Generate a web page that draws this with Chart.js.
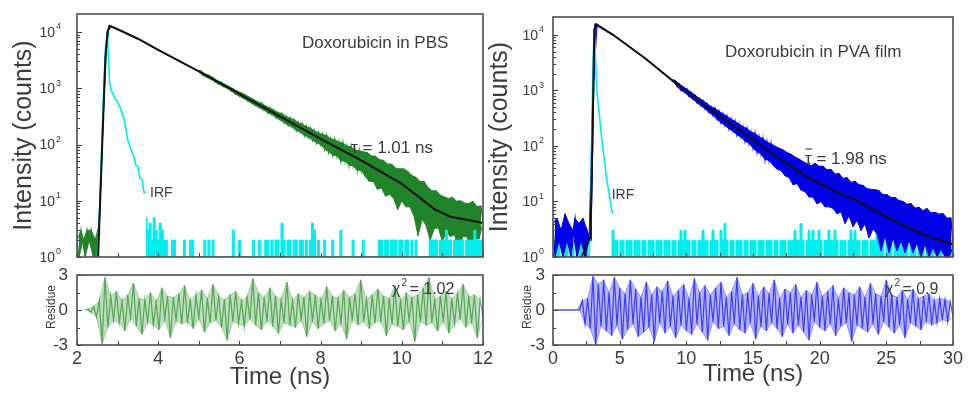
<!DOCTYPE html>
<html lang="en">
<head>
<meta charset="UTF-8" />
<title>Doxorubicin fluorescence decay</title>
<script src="https://cdn.jsdelivr.net/npm/chart.js@4.4.1/dist/chart.umd.min.js"></script>
<style>
  html, body { margin: 0; padding: 0; background: #fff; }
  #wrap { position: relative; width: 968px; height: 395px; overflow: hidden; }
  #wrap canvas { position: absolute; left: 0; top: 0; }
</style>
</head>
<body>
<div id="wrap">
  <canvas id="pbsMain" width="968" height="395"></canvas>
  <canvas id="pbsRes" width="968" height="395"></canvas>
  <canvas id="pvaMain" width="968" height="395"></canvas>
  <canvas id="pvaRes" width="968" height="395"></canvas>
</div>
<script>
// ---- tick labels ----
const pbsTimeTicks = [2, 4, 6, 8, 10, 12]
const pvaTimeTicks = [0, 5, 10, 15, 20, 25, 30]
const countTicks = [1, 10, 100, 1000, 10000]
const residueTicks = [-3, 0, 3]

// ---- Doxorubicin in PBS (time grid 2.00 ns, 0.05 ns bins) ----
const pbsTimeStart = 2.0
const pbsTimeStep = 0.05
const pbsCounts = [
  2, 1, 3, 2, 1, 3, 2, 3, 1, 2, 1,
  4, 38, 370, 3500, 10000, 12900,
  12600, 12000, 11750, 11200, 10800, 10400, 9980, 9600, 9230, 8870, 8530, 8200, 7890, 7590, 7240, 6920,
  6610, 6310, 6030, 5750, 5500, 5250, 5010, 4790, 4580, 4390, 4200, 4020, 3850, 3680, 3520, 3370,
  3230, 3090, 2960, 2830, 2710, 2590, 2480, 2380, 2280, 2180, 2080, 2000,
  2040, 1700, 1820, 1550, 1700, 1450, 1550, 1290, 1380, 1175, 1290, 1070, 1175, 1000, 1070, 890,
  980, 790, 890, 720, 830, 660, 760, 600, 690, 540, 630, 490, 575, 450, 540, 410, 480, 365, 450, 340,
  410, 300, 370, 275,
  355, 245, 316, 220, 295, 205, 275, 178, 245, 166, 230, 145, 210, 135, 195, 120, 175, 107, 162, 100,
  150, 83, 145, 74, 126, 65, 123, 63, 110, 51, 107, 51, 93, 43, 91, 42, 79, 35, 78, 35,
  74, 27, 72, 22, 63, 22, 62, 16, 54, 17, 52, 12, 45, 13, 45, 11, 38, 7, 37, 10,
  37, 7.8, 33, 7.8, 28, 5.4, 26, 2.4, 22, 4.7, 22, 3.6, 17, 2, 15, 3.2,
  15, 3.3, 12.6, 1.9, 11.7, 2.8, 11, 2.3,
  11.5, 2.5, 9.8, 1.2, 10, 2.3, 9.1, 2.3, 8.9, 1.4, 9.8, 2.1, 7.9, 2.1, 8.1, 4,
]
const pbsFitTime = [2.52, 2.6, 2.65, 2.7, 2.75, 2.8, 3.0, 3.5, 4, 5, 6, 7, 8, 9, 10, 10.8, 11.2, 11.6, 12]
const pbsFitCounts = [1, 38, 370, 3500, 10000, 12900, 11200, 7590, 4790, 2000, 794, 316, 126, 52, 20, 7.1, 5.2, 4.6, 4]
const pbsIrfStart = 2.45
const pbsIrfCounts = [1, 1, 5, 60, 700, 5000, 9000, 1300, 900, 750, 650, 560, 480, 380, 300, 200, 120, 95, 75, 62, 42, 40, 25, 24, 14, 14]
const pbsIrfTailStart = 3.7
const pbsIrfTail = [
  5, 3, 4, 2, 5, 3, 2, 4, 3, 2, 2, 1, 1, 2, 2, 1, 1, 1, 1, 2, 1, 1, 2, 2, 1, 1, 1, 1, 1, 2,
  1, 2, 1, 2, 1, 1, 1, 1, 1, 1, 1, 1, 1, 3, 1, 1, 2, 1, 1, 1, 1, 1, 1, 2, 1, 1, 2, 1, 1, 2,
  2, 1, 2, 1, 2, 2, 1, 4, 2, 1, 2, 2, 1, 2, 2, 1, 2, 2, 1, 2, 1, 2, 4, 3, 1, 2, 1, 1, 2, 1,
  1, 1, 2, 1, 1, 1, 3, 1, 1, 1, 1, 1, 2, 1, 1, 1, 1, 2, 1, 1, 1, 1, 1, 1, 1, 2, 2, 1, 2, 2,
  1, 2, 2, 2, 1, 2, 2, 1, 2, 2, 1, 2, 1, 2, 1, 1, 1, 1, 1, 1, 2, 2, 2, 2, 1, 2, 2, 2, 3, 2,
  2, 1, 2, 2, 2, 2, 2, 1, 2, 2, 2, 2, 3, 2, 2, 2, 2,
]
const pbsResStart = 2.2
const pbsResStep = 0.07
const pbsResidue = [
  0, 0.1, -0.2, 0.3, -0.6, 0.8, -2.9, 2.8, -1.5, 1.2, -0.9, 1.6, -1.1, 0.8, -1.8, 1.3, -0.7, 2.3, -1.4, 1.0,
  -2.1, 0.9, -1.0, 1.5, -1.3, 0.7, -1.7, 1.9, -0.8, 1.2, -2.4, 1.1, -0.9, 1.4, -1.2, 2.1, -1.0, 0.8, -1.6, 1.3,
  -0.7, 1.7, -1.9, 1.0, -1.1, 2.2, -0.9, 1.2, -1.5, 0.9, -2.6, 1.3, -1.0, 1.6, -1.2, 0.8, -1.4, 1.1, -0.8, 2.7,
  -1.3, 1.5, -1.7, 1.0, -0.9, 1.9, -1.4, 1.2, -2.0, 0.9, -1.1, 2.4, -1.3, 0.8, -1.5, 1.4, -0.8, 1.1, -2.3, 1.6,
  -1.0, 1.3, -1.6, 0.9, -1.2, 2.0, -0.9, 1.2, -1.8, 1.0, -1.1, 1.7, -2.5, 1.1, -0.8, 1.4, -1.3, 2.6, -1.0, 0.9,
  -1.6, 1.3, -1.1, 1.8, -0.9, 1.2, -2.2, 1.0, -1.2, 2.1, -1.4, 0.8, -1.7, 1.5, -0.9, 1.1, -2.7, 1.3, -1.0, 1.9,
  -1.3, 2.8, -1.1, 0.9, -1.8, 1.2, -0.9, 1.6, -2.0, 1.0, -1.2, 1.4, -0.8, 2.2, -1.5, 1.1, -1.0, 1.3, -2.4, 0.9, -0.6,
]

// ---- Doxorubicin in PVA film (time grid 0 ns, 0.15 ns bins) ----
const pvaTimeStart = 0
const pvaTimeStep = 0.15
const pvaCounts = [
  4, 1, 5, 2, 3, 1, 6, 2, 4, 1, 3, 5, 1, 4, 2, 5, 1, 3, 2, 2,
  1000, 15500, 14600, 13900, 13250, 12650, 12080, 11500, 11000, 10470, 10000,
  9420, 8850, 8340, 7840, 7380, 6950, 6530, 6150, 5780, 5440,
  5130, 4820, 4540, 4270, 4020, 3780, 3550, 3320, 3100, 2900,
  2710, 2530, 2370, 2210, 2070, 1930, 1800, 1690, 1570, 1470,
  1510, 1175, 1320, 1000, 1160, 908, 1050, 783, 927, 692, 818, 597, 723, 527, 653, 466, 577, 402, 509, 355,
  473, 302, 421, 262, 375, 234, 342, 203, 304, 185, 277, 158, 247, 144, 220, 122, 205, 111, 177, 92,
  168, 78, 146, 72, 135, 57, 117, 55, 109, 45, 99, 38, 91, 36, 85, 29, 76, 27, 71, 20,
  63, 21, 58, 16, 52, 15, 48, 12, 44, 12, 49, 9, 43, 10, 43, 8, 37, 8, 38, 7.5,
  31, 6, 32, 6.5, 26, 4, 27, 5.5, 22, 3.5, 23, 4.6, 20, 3, 19.5, 4, 17, 2.2, 16.5, 3.2,
  16.3, 2.6, 15.7, 1.3, 13.2, 2.4, 13.3, 1.2, 11.7, 2.2, 11.8, 1.3, 10.4, 2, 10, 1.2, 8.9, 2, 9.2, 1.2,
  7.6, 1.8, 7.9, 1, 6.8, 1.7, 7.5, 1, 6.2, 1.5, 6.4, 1, 5.9, 1.4, 6.1, 1, 5, 1, 5.1, 1.5,
]
const pvaFitTime = [2.15, 2.5, 2.8, 2.95, 3.1, 3.25, 4.5, 7, 9.5, 12, 14.5, 16.5, 19, 21.5, 23, 24, 26.5, 28, 30]
const pvaFitCounts = [1, 1.6, 2.3, 100, 12600, 15500, 10000, 3630, 1175, 417, 158, 71, 28, 14, 9.8, 7.1, 3.5, 2.4, 1.7]
const pvaIrfStart = 2.7
const pvaIrfStep = 0.1
const pvaIrfCounts = [1, 3, 150, 3000, 12500, 3200, 900, 560, 320, 180, 110, 70, 45, 28, 20, 14, 10, 7, 6]
const pvaIrfBackground = [
  2, 1, 2, 2, 1, 2, 2, 2, 1, 2, 2, 1, 2, 2, 2, 1, 2, 2, 1, 1,
  1, 1, 1, 1, 1, 1, 1, 1, 1, 1, 3, 2, 2, 1, 2, 2, 1, 2, 2, 2,
  1, 2, 2, 2, 1, 2, 2, 1, 2, 2, 2, 1, 2, 2, 2, 1, 2, 2, 2, 1,
  2, 2, 1, 2, 3, 2, 3, 2, 2, 1, 2, 2, 1, 2, 2, 3, 2, 2, 1, 2,
  3, 2, 2, 1, 3, 2, 4, 2, 1, 2, 2, 1, 2, 2, 2, 1, 2, 2, 1, 2,
  2, 2, 1, 2, 2, 2, 1, 2, 2, 2, 1, 2, 2, 1, 2, 2, 2, 1, 2, 2,
  2, 3, 2, 2, 4, 2, 1, 2, 3, 2, 3, 2, 2, 3, 2, 1, 2, 2, 3, 2,
  2, 3, 2, 1, 2, 2, 2, 1, 2, 3, 2, 3, 2, 2, 1, 2, 2, 2, 1, 2,
  2, 2, 3, 2, 4, 2, 1, 2, 2, 2, 1, 2, 2, 2, 3, 2, 3, 2, 1, 2,
  2, 2, 1, 2, 2, 2, 1, 2, 2, 2, 2, 1, 2, 2, 2, 1, 2, 2, 2, 2, 2,
]
const pvaResStep = 0.2
const pvaResidue = [
  0, 0, 0, 0, 0, 0, 0, 0, 0, 0, 0,
  0.8, -1.2, 1.0, -1.6, 2.9, -3.0, 2.2, -1.4, 2.6, -1.8, 1.5, -2.2, 2.8, -1.3, 1.9, -2.5, 1.4, -1.7, 2.6,
  -1.2, 1.8, -2.3, 1.1, -1.9, 2.4, -1.5, 1.3, -2.7, 2.0, -1.1, 1.6, -2.0, 2.5, -1.4, 1.2, -2.4, 1.7, -1.3, 2.2,
  -1.8, 1.0, -2.1, 2.7, -1.2, 1.5, -1.9, 2.1, -2.6, 1.3, -1.0, 1.9, -1.6, 2.4, -1.4, 1.1, -2.2, 1.6, -1.2, 2.8,
  -1.7, 1.3, -2.0, 1.5, -1.1, 2.3, -2.5, 1.2, -1.4, 2.0, -1.8, 1.4, -1.1, 2.6, -1.6, 1.0, -2.3, 1.8, -1.2, 1.5,
  -2.0, 2.2, -1.3, 1.1, -1.9, 1.7, -2.6, 1.3, -1.0, 2.4, -1.5, 1.2, -1.8, 1.6, -1.2, 2.1, -2.2, 1.0, -1.4, 1.9,
  -1.1, 1.5, -2.7, 1.3, -1.3, 2.0, -1.6, 1.1, -1.9, 2.3, -1.2, 1.4, -2.1, 1.2, -1.0, 2.6, -1.5, 1.3, -2.0, 1.1,
  -1.3, 1.7, -2.4, 0.9, -1.1, 1.8, -1.4, 1.0, -1.7, 1.2, -0.9, 1.4, -1.3, 0.8, -1.1, 1.0, -0.8, 0.9, -1.0, 0.7, -0.6,
]

// ---- look ----
const INK = '#3c3c3c'
const FONT = '"Liberation Sans", Arial, Helvetica, sans-serif'
const GREEN = '#22842a'
const BLUE = '#0000e6'
const CYAN = '#00eeee'
const FIT = '#111111'

function series(t0, dt, values) {
  return values.map((v, i) => ({ x: +(t0 + i * dt).toFixed(3), y: v }))
}
function pairs(ts, vs) {
  return ts.map((t, i) => ({ x: t, y: vs[i] }))
}
// noisy record: the jagged trace itself, plus the area between its alternate samples
function noisy(points, line, fill, width) {
  return [
    { data: points, borderColor: line, borderWidth: width },
    { data: points.filter((_, i) => i % 2 === 0), borderColor: fill, borderWidth: 1 },
    { data: points.filter((_, i) => i % 2 === 1), borderColor: fill, borderWidth: 1, backgroundColor: fill, fill: '-1' },
  ]
}
const minorCounts = countTicks.slice(0, -1).flatMap((d) => [2, 3, 4, 5, 6, 7, 8, 9].map((m) => d * m))

function text(ctx, str, x, y, size, align = 'center', base = 'middle') {
  ctx.font = `${size}px ${FONT}`
  ctx.textAlign = align
  ctx.textBaseline = base
  ctx.fillText(str, x, y)
}
function vtext(ctx, str, x, y, size) {
  ctx.save()
  ctx.translate(x, y)
  ctx.rotate(-Math.PI / 2)
  text(ctx, str, 0, 0, size)
  ctx.restore()
}

function decor(opt) {
  return {
    id: 'decor',
    afterDraw(chart) {
      const { ctx, chartArea: a } = chart
      const x = chart.scales.x
      const y = chart.scales.y
      ctx.save()
      ctx.strokeStyle = INK
      ctx.fillStyle = INK
      ctx.lineWidth = 1
      ctx.beginPath()
      for (let v = x.min; v <= x.max + 1e-6; v += opt.xStep) {
        const px = Math.round(x.getPixelForValue(v)) + 0.5
        ctx.moveTo(px, a.bottom)
        ctx.lineTo(px, a.bottom - 4)
      }
      for (const v of opt.yMajor) {
        const py = Math.round(y.getPixelForValue(v)) + 0.5
        ctx.moveTo(a.left, py)
        ctx.lineTo(a.left + 5, py)
      }
      for (const v of opt.yMinor) {
        const py = Math.round(y.getPixelForValue(v)) + 0.5
        ctx.moveTo(a.left, py)
        ctx.lineTo(a.left + 3, py)
      }
      ctx.stroke()
      ctx.lineWidth = 1.6
      ctx.strokeStyle = '#4d4d4d'
      ctx.strokeRect(a.left, a.top, a.right - a.left, a.bottom - a.top)
      opt.draw(ctx, a, x, y)
      ctx.restore()
    },
  }
}

function powerLabels(ctx, a, y, gap) {
  for (const v of countTicks) {
    const py = y.getPixelForValue(v)
    text(ctx, '10', a.left - gap, py + 1, 14, 'right')
    text(ctx, String(Math.round(Math.log10(v))), a.left - gap + 1, py - 5, 9, 'left')
  }
  vtext(ctx, 'Intensity (counts)', a.left - 53, (a.top + a.bottom) / 2, 25)
}
function timeAxis(ctx, a, x, ticks, titleDy) {
  for (const v of ticks) text(ctx, String(v), x.getPixelForValue(v), a.bottom + 14, 18)
  text(ctx, 'Time (ns)', (a.left + a.right) / 2, a.bottom + titleDy, 24)
}
function residueAxis(ctx, a, y, gap) {
  for (const v of residueTicks) text(ctx, String(v), a.left - gap, y.getPixelForValue(v), 17, 'right')
  vtext(ctx, 'Residue', a.left - 25, (a.top + a.bottom) / 2 - 3, 12)
}
function chiLabel(ctx, px, py, value) {
  text(ctx, 'χ', px, py, 16, 'left')
  const w = ctx.measureText('χ').width
  text(ctx, '2', px + w + 1, py - 7, 10, 'left')
  text(ctx, '= ' + value, px + w + 9, py, 16, 'left')
}

function options(pad, xMin, xMax, yScale) {
  return {
    responsive: false,
    animation: false,
    devicePixelRatio: 1,
    events: [],
    layout: { padding: pad },
    plugins: { legend: { display: false }, tooltip: { enabled: false } },
    elements: { point: { radius: 0 }, line: { tension: 0 } },
    scales: {
      x: { type: 'linear', min: xMin, max: xMax, display: false },
      y: Object.assign({ display: false }, yScale),
    },
  }
}
const logY = { type: 'logarithmic', min: 1, max: 20900 }
const resY = { type: 'linear', min: -3, max: 3 }

// ---- PBS decay ----
new Chart(document.getElementById('pbsMain'), {
  type: 'line',
  data: {
    datasets: [
      { data: pairs(pbsFitTime, pbsFitCounts), borderColor: FIT, borderWidth: 2 },
      { data: series(pbsIrfStart, pbsTimeStep, pbsIrfCounts), borderColor: CYAN, borderWidth: 1.6 },
      {
        data: series(pbsIrfTailStart, pbsTimeStep, pbsIrfTail),
        borderColor: CYAN, backgroundColor: CYAN, borderWidth: 1, stepped: 'middle', fill: 'start',
      },
      ...noisy(series(pbsTimeStart, pbsTimeStep, pbsCounts), GREEN, GREEN, 1.2),
    ],
  },
  options: options({ left: 77, top: 14, right: 485, bottom: 138 }, 2, 12, logY),
  plugins: [
    decor({
      xStep: 1, yMajor: countTicks, yMinor: minorCounts,
      draw(ctx, a, x, y) {
        powerLabels(ctx, a, y, 22)
        text(ctx, 'Doxorubicin in PBS', x.getPixelForValue(7.54), y.getPixelForValue(6400), 17, 'left')
        text(ctx, 'IRF', x.getPixelForValue(3.8), y.getPixelForValue(13.7), 14, 'left')
        text(ctx, 'τ = 1.01 ns', x.getPixelForValue(8.75), y.getPixelForValue(85), 17, 'left')
      },
    }),
  ],
})

new Chart(document.getElementById('pbsRes'), {
  type: 'line',
  data: {
    datasets: noisy(series(pbsResStart, pbsResStep, pbsResidue), 'rgba(20,125,20,0.6)', 'rgba(40,150,40,0.3)', 1.2),
  },
  options: options({ left: 77, top: 275, right: 485, bottom: 50 }, 2, 12, resY),
  plugins: [
    decor({
      xStep: 1, yMajor: residueTicks, yMinor: [-1.5, 1.5],
      draw(ctx, a, x, y) {
        residueAxis(ctx, a, y, 9)
        timeAxis(ctx, a, x, pbsTimeTicks, 32)
        chiLabel(ctx, x.getPixelForValue(9.76), y.getPixelForValue(1.71), '1.02')
      },
    }),
  ],
})

// ---- PVA film decay ----
new Chart(document.getElementById('pvaMain'), {
  type: 'line',
  data: {
    datasets: [
      { data: pairs(pvaFitTime, pvaFitCounts), borderColor: FIT, borderWidth: 2 },
      { data: series(pvaIrfStart, pvaIrfStep, pvaIrfCounts), borderColor: CYAN, borderWidth: 1.6 },
      ...noisy(series(pvaTimeStart, pvaTimeStep, pvaCounts), BLUE, BLUE, 1.2),
      {
        data: series(pvaTimeStart, pvaTimeStep, pvaIrfBackground),
        borderColor: CYAN, backgroundColor: CYAN, borderWidth: 1, stepped: 'middle', fill: 'start',
      },
    ],
  },
  options: options({ left: 553, top: 17, right: 15, bottom: 138 }, 0, 30, logY),
  plugins: [
    decor({
      xStep: 2.5, yMajor: countTicks, yMinor: minorCounts,
      draw(ctx, a, x, y) {
        powerLabels(ctx, a, y, 15)
        text(ctx, 'Doxorubicin in PVA film', x.getPixelForValue(12.9), y.getPixelForValue(4900), 17, 'left')
        text(ctx, 'IRF', x.getPixelForValue(4.4), y.getPixelForValue(13), 14, 'left')
        const tx = x.getPixelForValue(18.9)
        const ty = y.getPixelForValue(58)
        text(ctx, 'τ = 1.98 ns', tx, ty, 17, 'left')
        const tw = ctx.measureText('τ').width
        ctx.lineWidth = 1.2
        ctx.beginPath()
        ctx.moveTo(tx + 0.5, ty - 10)
        ctx.lineTo(tx + tw + 0.5, ty - 10)
        ctx.stroke()
      },
    }),
  ],
})

new Chart(document.getElementById('pvaRes'), {
  type: 'line',
  data: {
    datasets: noisy(series(pvaTimeStart, pvaResStep, pvaResidue), 'rgba(0,0,235,0.65)', 'rgba(40,40,255,0.35)', 1.2),
  },
  options: options({ left: 553, top: 275, right: 15, bottom: 50 }, 0, 30, resY),
  plugins: [
    decor({
      xStep: 2.5, yMajor: residueTicks, yMinor: [-1.5, 1.5],
      draw(ctx, a, x, y) {
        residueAxis(ctx, a, y, 8)
        timeAxis(ctx, a, x, pvaTimeTicks, 29)
        chiLabel(ctx, x.getPixelForValue(24.9), y.getPixelForValue(1.71), '0.9')
      },
    }),
  ],
})
</script>
</body>
</html>
